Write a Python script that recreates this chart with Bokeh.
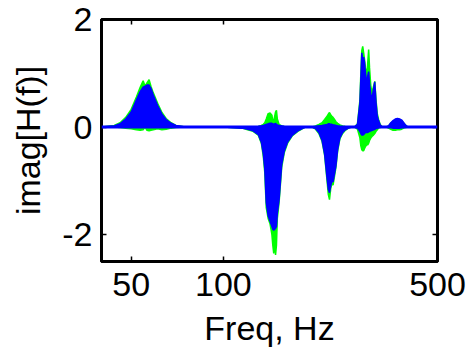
from bokeh.plotting import figure
from bokeh.models import ColumnDataSource, Range1d, FixedTicker, LogAxis, LinearAxis, Span
from bokeh.embed import file_html
from bokeh.resources import INLINE

# ---- data (envelopes of the overlaid traces) ----
freq_hz = [40, 44, 46, 48, 50, 52, 53.5, 54.7, 55.5, 56.3, 57.2, 58, 59, 61, 63, 65, 67.5, 70, 75,
           100, 115, 120, 125, 130, 133, 135, 136.5, 138, 140, 142, 144, 145, 146, 147, 148, 149, 150, 152, 155, 158, 162, 168, 175, 185,
           195, 200, 205, 210, 214, 218, 220, 222, 224, 226, 228, 230, 233, 236, 240, 245, 250, 256, 262,
           268, 274, 279, 281, 283, 285, 287, 289, 291, 294, 296, 298, 300, 303, 306, 309, 312, 315, 318, 321, 325, 330,
           340, 346, 352, 358, 364, 370, 376, 382, 388, 394, 400, 420, 500]

green_upper = [0, 0.03, 0.08, 0.18, 0.33, 0.56, 0.74, 0.86, 0.76, 0.82, 0.88, 0.76, 0.64, 0.44, 0.27, 0.16, 0.08, 0.03, 0,
               0, 0, 0, 0, 0.01, 0.03, 0.05, 0.08, 0.15, 0.25, 0.26, 0.22, 0.1, 0.12, 0.2, 0.28, 0.31, 0.15, 0.05, 0.02, 0.01, 0, 0, 0, 0,
               0, 0.02, 0.05, 0.08, 0.14, 0.2, 0.24, 0.27, 0.23, 0.2, 0.18, 0.15, 0.1, 0.07, 0.04, 0.02, 0.01, 0, 0,
               0, 0.06, 0.5, 1.0, 1.42, 1.5, 1.38, 1.25, 1.1, 0.95, 1.2, 1.44, 1.1, 0.75, 0.65, 0.75, 0.85, 0.5, 0.25, 0.14, 0.05, 0,
               0, 0.02, 0.07, 0.1, 0.13, 0.15, 0.14, 0.12, 0.07, 0.03, 0, 0, 0]

green_lower = [0, 0, -0.01, -0.02, -0.03, -0.05, -0.06, -0.05, 0, -0.06, -0.07, -0.06, -0.05, -0.03, -0.05, -0.04, -0.02, -0.01, 0,
               0, -0.02, -0.05, -0.08, -0.15, -0.3, -0.55, -0.85, -1.5, -1.7, -1.8, -2.0, -2.2, -2.35, -2.1, -2.38, -2.2, -1.7, -1.4, -0.75, -0.48, -0.3, -0.16, -0.08, 0,
               0, -0.04, -0.12, -0.27, -0.52, -1.0, -1.25, -1.35, -1.15, -1.05, -1.08, -0.95, -0.75, -0.45, -0.22, -0.12, -0.06, -0.02, 0,
               0, -0.04, -0.2, -0.35, -0.42, -0.44, -0.44, -0.4, -0.36, -0.33, -0.33, -0.3, -0.25, -0.2, -0.17, -0.15, -0.12, -0.08, -0.05, -0.02, -0.01, 0,
               0, -0.02, -0.04, -0.06, -0.06, -0.05, -0.05, -0.04, -0.02, -0.01, 0, 0, 0]

blue_upper = [0, 0.02, 0.06, 0.15, 0.28, 0.5, 0.66, 0.74, 0.76, 0.78, 0.78, 0.72, 0.6, 0.4, 0.24, 0.14, 0.07, 0.03, 0,
              0, 0, 0, 0, 0.01, 0.02, 0.03, 0.04, 0.05, 0.06, 0.07, 0.07, 0.06, 0.05, 0.06, 0.07, 0.05, 0.04, 0.03, 0.02, 0.01, 0, 0, 0, 0,
              0, 0.01, 0.02, 0.03, 0.04, 0.05, 0.06, 0.06, 0.05, 0.05, 0.04, 0.04, 0.03, 0.02, 0.01, 0, 0, 0, 0,
              0, 0.05, 0.45, 0.9, 1.38, 1.25, 1.3, 1.2, 1.0, 0.8, 0.95, 1.03, 0.8, 0.6, 0.55, 0.7, 0.84, 0.45, 0.2, 0.12, 0.04, 0,
              0, 0.02, 0.08, 0.12, 0.15, 0.16, 0.15, 0.13, 0.08, 0.03, 0, 0, 0]

blue_lower = [0, 0, 0, 0, 0, 0, 0, 0, 0, 0, 0, 0, 0, 0, 0, 0, 0, 0, 0,
              0, -0.02, -0.04, -0.07, -0.14, -0.28, -0.5, -0.78, -1.4, -1.65, -1.75, -1.85, -1.9, -1.92, -1.9, -1.88, -1.85, -1.6, -1.35, -0.7, -0.45, -0.28, -0.15, -0.07, 0,
              0, -0.03, -0.1, -0.25, -0.5, -0.95, -1.15, -1.22, -1.1, -1.0, -1.02, -0.9, -0.72, -0.42, -0.2, -0.1, -0.05, -0.02, 0,
              0, -0.02, -0.08, -0.12, -0.15, -0.15, -0.14, -0.12, -0.1, -0.1, -0.1, -0.09, -0.08, -0.07, -0.06, -0.05, -0.04, -0.03, -0.02, -0.01, 0, 0,
              0, 0, 0, -0.02, -0.02, -0.02, -0.02, -0.01, 0, 0, 0, 0, 0]

x_ticks = [50, 100, 500]
x_tick_labels = ["50", "100", "500"]
y_ticks = [-2, 0, 2]
y_tick_labels = ["-2", "0", "2"]
x_limits = (40, 500)
y_limits = (-2.5, 2)

GREEN = "#00ff00"
BLUE = "#0000ff"
FONT = "Liberation Sans"
FS = "34px"

src = ColumnDataSource(dict(f=freq_hz, gu=green_upper, gl=green_lower, bu=blue_upper, bl=blue_lower))

p = figure(width=472, height=349, x_axis_type="log",
           x_range=Range1d(*x_limits), y_range=Range1d(*y_limits),
           output_backend="svg", toolbar_location=None,
           min_border_left=101, min_border_top=19, min_border_right=35, min_border_bottom=88)

p.xgrid.visible = False
p.ygrid.visible = False
p.background_fill_color = "white"
p.border_fill_color = "white"
p.outline_line_color = "black"
p.outline_line_width = 3

# traces (envelopes)
p.varea(x="f", y1="gl", y2="gu", source=src, fill_color=GREEN)
p.line(x="f", y="gu", source=src, line_color=GREEN, line_width=1.5)
p.line(x="f", y="gl", source=src, line_color=GREEN, line_width=1.5)
p.varea(x="f", y1="bl", y2="bu", source=src, fill_color=BLUE)
p.line(x="f", y="bu", source=src, line_color=BLUE, line_width=1.5)
p.line(x="f", y="bl", source=src, line_color=BLUE, line_width=1.5)
p.add_layout(Span(location=0, dimension="width", line_color=BLUE, line_width=3))

def style_axis(ax):
    ax.axis_line_color = "black"
    ax.axis_line_width = 3
    ax.major_tick_in = 5
    ax.major_tick_out = 0
    ax.major_tick_line_color = "black"
    ax.major_tick_line_width = 1.5
    ax.minor_tick_line_color = None
    ax.major_label_text_font = FONT
    ax.major_label_text_font_size = FS
    ax.major_label_text_color = "black"
    ax.major_label_text_line_height = 1.0
    ax.axis_label_text_font = FONT
    ax.axis_label_text_font_size = FS
    ax.axis_label_text_font_style = "normal"
    ax.axis_label_text_color = "black"
    ax.axis_label_text_line_height = 1.0

xa = p.xaxis[0]
style_axis(xa)
xa.ticker = FixedTicker(ticks=x_ticks, minor_ticks=[])
xa.major_label_overrides = {t: l for t, l in zip(x_ticks, x_tick_labels)}
xa.major_label_standoff = 11
xa.axis_label = "Freq, Hz"
xa.axis_label_standoff = 10

ya = p.yaxis[0]
style_axis(ya)
ya.ticker = FixedTicker(ticks=y_ticks, minor_ticks=[])
ya.major_label_overrides = {t: l for t, l in zip(y_ticks, y_tick_labels)}
ya.major_label_standoff = 9
ya.axis_label = "imag[H(f)]"
ya.axis_label_standoff = 12

top = LogAxis(ticker=FixedTicker(ticks=x_ticks, minor_ticks=[]),
              major_label_overrides={t: "" for t in x_ticks})
style_axis(top)
top.major_label_standoff = 0
p.add_layout(top, "above")

right = LinearAxis(ticker=FixedTicker(ticks=y_ticks, minor_ticks=[]),
                   major_label_overrides={t: "" for t in y_ticks})
style_axis(right)
right.major_label_standoff = 0
p.add_layout(right, "right")

open("out.html", "w").write(file_html(p, INLINE))
